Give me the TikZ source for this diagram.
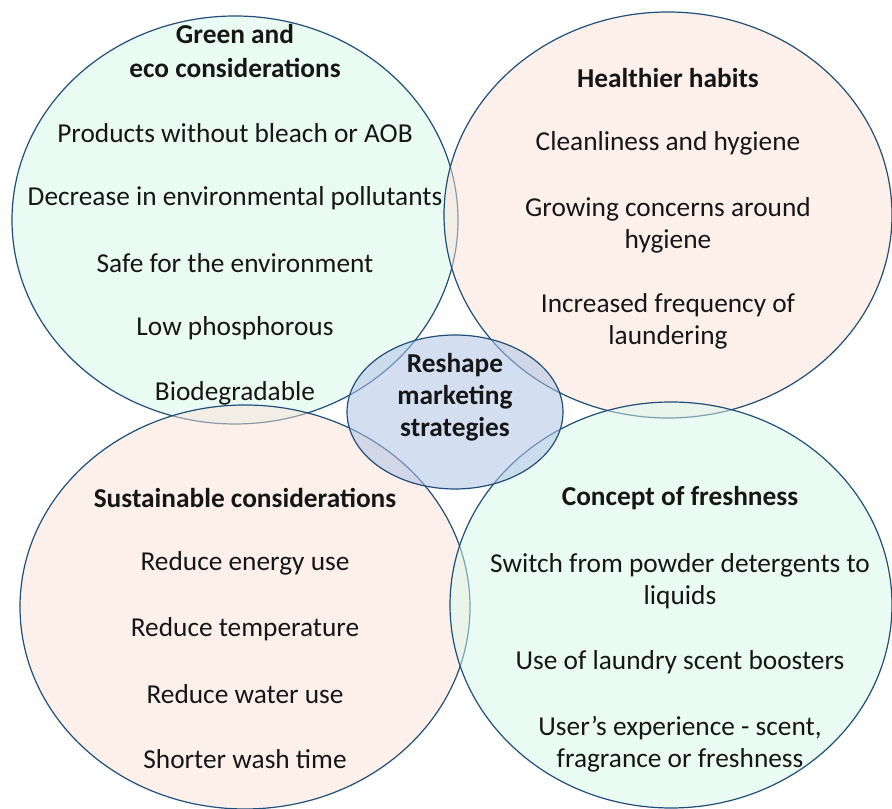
\documentclass[tikz,border=0pt]{standalone}
\usepackage{fontspec}
\setmainfont{Carlito}
\usepackage{xcolor}
\usetikzlibrary{positioning}

\definecolor{mintfill}{HTML}{D6F8EA}
\definecolor{peachfill}{HTML}{FBE2D6}
\definecolor{hubfill}{HTML}{AFC4E6}
\definecolor{ringline}{HTML}{1F4E79}
\definecolor{inktext}{HTML}{161616}

\tikzset{
  ring/.style={draw=ringline, line width=0.9pt, fill opacity=0.5},
  head/.style={font=\fontsize{20.5}{25}\selectfont\bfseries, text=inktext, align=center},
  item/.style={font=\fontsize{20.5}{24}\selectfont, text=inktext, align=center}
}

\begin{document}
\begin{tikzpicture}[x=0.75pt, y=0.75pt]
    \useasboundingbox (0,0) rectangle (892,809);

    % Four overlapping circles
    \draw[ring, fill=mintfill] (235,589) ellipse [x radius=223, y radius=204];
    \draw[ring, fill=peachfill] (668,594) ellipse [x radius=224, y radius=203];
    \draw[ring, fill=peachfill] (245,202) ellipse [x radius=225, y radius=202];
    \draw[ring, fill=mintfill] (671,204) ellipse [x radius=221, y radius=203];

    % Hub in the middle
    \draw[ring, fill=hubfill, fill opacity=0.55] (455,397) ellipse [x radius=108, y radius=77];

    % Green and eco
    \node[head] (eco) at (235,758) {Green and\\eco considerations};
    \node[item] (eco1) at (235,676) {Products without bleach or AOB};
    \node[item] (eco2) at (235,611) {Decrease in environmental pollutants};
    \node[item] (eco3) at (235,546) {Safe for the environment};
    \node[item] (eco4) at (235,481) {Low phosphorous};
    \node[item] (eco5) at (235,416) {Biodegradable};

    % Healthier habits
    \node[head] (health) at (668,731) {Healthier habits};
    \node[item] (health1) at (668,666) {Cleanliness and hygiene};
    \node[item] (health2) at (668,584) {Growing concerns around\\hygiene};
    \node[item] (health3) at (668,488) {Increased frequency of\\laundering};

    % Sustainable
    \node[head] (sust) at (245,311) {Sustainable considerations};
    \node[item] (sust1) at (245,246) {Reduce energy use};
    \node[item] (sust2) at (245,180) {Reduce temperature};
    \node[item] (sust3) at (245,115) {Reduce water use};
    \node[item] (sust4) at (245,50) {Shorter wash time};

    % Freshness
    \node[head] (fresh) at (680,311) {Concept of freshness};
    \node[item] (fresh1) at (680,228) {Switch from powder detergents to\\liquids};
    \node[item] (fresh2) at (680,147) {Use of laundry scent boosters};
    \node[item] (fresh3) at (680,65) {User’s experience - scent,\\fragrance or freshness};

    % Middle
    \node[head, font=\fontsize{20.5}{24}\selectfont\bfseries] (hub) at (455,412) {Reshape\\marketing\\strategies};
\end{tikzpicture}
\end{document}
